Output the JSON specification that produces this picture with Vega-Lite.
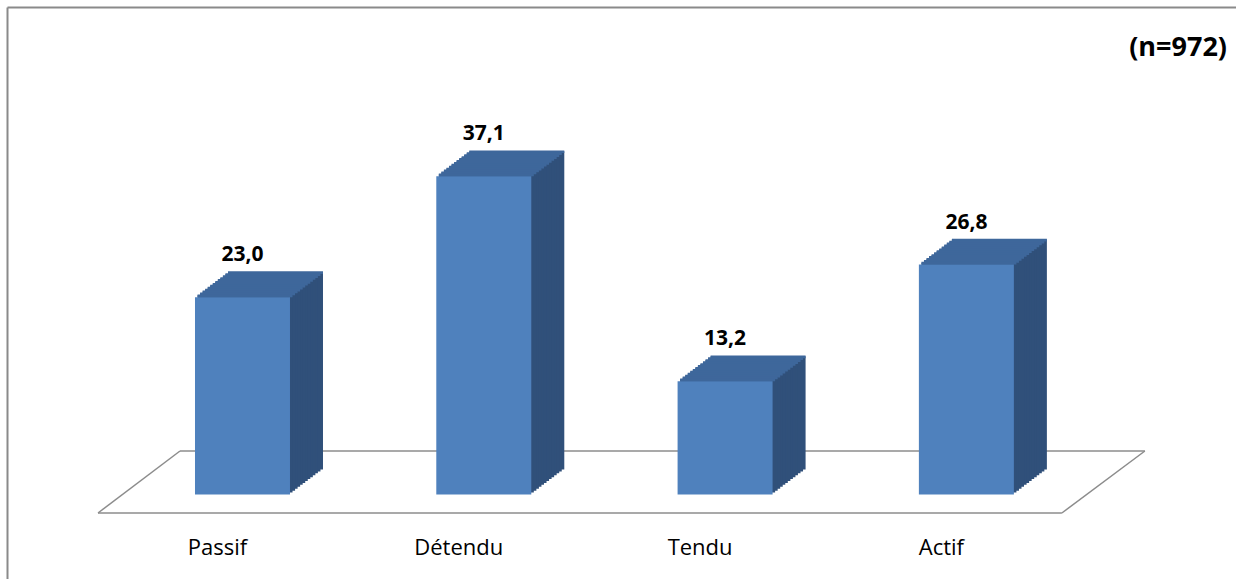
{
  "$schema": "https://vega.github.io/schema/vega-lite/v6.json",
  "autosize": {"type": "none"},
  "padding": {"left": 7, "top": 7, "right": 0, "bottom": 0},
  "width": 1229,
  "height": 572,
  "background": "white",
  "title": {"text": "(n=972)", "anchor": "end", "orient": "top", "frame": "group", "font": "Open Sans", "fontSize": 27, "fontWeight": "bold", "color": "#000000", "baseline": "alphabetic", "offset": 0, "dy": 76, "dx": -9},
  "data": {"values": [
    {"cat": "Passif", "v": 23.0},
    {"cat": "Détendu", "v": 37.1},
    {"cat": "Tendu", "v": 13.2},
    {"cat": "Actif", "v": 26.8}
  ]},
  "encoding": {
    "x": {"field": "cat", "type": "nominal", "sort": null,
      "scale": {"domain": ["Passif", "Détendu", "Tendu", "Actif"], "paddingInner": 0.6063, "paddingOuter": 0.8498, "align": 0.4584, "round": false},
      "axis": {"orient": "top", "labels": false, "ticks": false, "title": null, "grid": false, "domain": true, "domainColor": "#8a8a8a", "domainWidth": 2}},
    "y": {"field": "v", "type": "quantitative",
      "scale": {"domain": [-9.85, 56.82], "nice": false, "zero": false},
      "axis": {"labels": false, "ticks": false, "title": null, "grid": false, "domain": true, "domainColor": "#8a8a8a", "domainWidth": 2}}
  },
  "layer": [
    {"transform": [{"filter": "datum.cat === 'Passif'"}], "mark": {"type": "rule", "color": "#8c8c8c", "strokeWidth": 1.5, "xOffset": -62.5, "x2Offset": 178.5, "yOffset": -43.5, "y2Offset": -43.5},
     "encoding": {"x": {"datum": "Passif"}, "x2": {"datum": "Actif"}, "y": {"datum": 0}, "y2": {"datum": 0}}},
    {"transform": [{"filter": "datum.cat === 'Passif'"}], "mark": {"type": "rule", "color": "#8c8c8c", "strokeWidth": 1.5, "xOffset": -144.5, "x2Offset": 95.5, "yOffset": 18.5, "y2Offset": 18.5},
     "encoding": {"x": {"datum": "Passif"}, "x2": {"datum": "Actif"}, "y": {"datum": 0}, "y2": {"datum": 0}}},
    {"transform": [{"filter": "datum.cat === 'Passif'"}], "mark": {"type": "rule", "color": "#8c8c8c", "strokeWidth": 1.5, "xOffset": -144.5, "x2Offset": -62.5, "yOffset": 18.5, "y2Offset": -43.5},
     "encoding": {"x": {"datum": "Passif"}, "x2": {"datum": "Passif"}, "y": {"datum": 0}, "y2": {"datum": 0}}},
    {"transform": [{"filter": "datum.cat === 'Actif'"}], "mark": {"type": "rule", "color": "#8c8c8c", "strokeWidth": 1.5, "xOffset": 95.5, "x2Offset": 178.5, "yOffset": 18.5, "y2Offset": -43.5},
     "encoding": {"x": {"datum": "Actif"}, "x2": {"datum": "Actif"}, "y": {"datum": 0}, "y2": {"datum": 0}}},

    {"mark": {"type": "bar", "color": "#30507A", "xOffset": 33.0, "yOffset": -25.0, "y2Offset": -25.0}, "encoding": {"y2": {"datum": 0}}},
    {"mark": {"type": "bar", "color": "#3E679B", "xOffset": 33.0, "yOffset": -25.8, "y2Offset": -23.08}, "encoding": {"y2": {"field": "v"}}},
    {"mark": {"type": "bar", "color": "#30507A", "xOffset": 30.46, "yOffset": -23.08, "y2Offset": -23.08}, "encoding": {"y2": {"datum": 0}}},
    {"mark": {"type": "bar", "color": "#3E679B", "xOffset": 30.46, "yOffset": -23.88, "y2Offset": -21.15}, "encoding": {"y2": {"field": "v"}}},
    {"mark": {"type": "bar", "color": "#30507A", "xOffset": 27.92, "yOffset": -21.15, "y2Offset": -21.15}, "encoding": {"y2": {"datum": 0}}},
    {"mark": {"type": "bar", "color": "#3E679B", "xOffset": 27.92, "yOffset": -21.95, "y2Offset": -19.23}, "encoding": {"y2": {"field": "v"}}},
    {"mark": {"type": "bar", "color": "#30507A", "xOffset": 25.38, "yOffset": -19.23, "y2Offset": -19.23}, "encoding": {"y2": {"datum": 0}}},
    {"mark": {"type": "bar", "color": "#3E679B", "xOffset": 25.38, "yOffset": -20.03, "y2Offset": -17.31}, "encoding": {"y2": {"field": "v"}}},
    {"mark": {"type": "bar", "color": "#30507A", "xOffset": 22.85, "yOffset": -17.31, "y2Offset": -17.31}, "encoding": {"y2": {"datum": 0}}},
    {"mark": {"type": "bar", "color": "#3E679B", "xOffset": 22.85, "yOffset": -18.11, "y2Offset": -15.38}, "encoding": {"y2": {"field": "v"}}},
    {"mark": {"type": "bar", "color": "#30507A", "xOffset": 20.31, "yOffset": -15.38, "y2Offset": -15.38}, "encoding": {"y2": {"datum": 0}}},
    {"mark": {"type": "bar", "color": "#3E679B", "xOffset": 20.31, "yOffset": -16.18, "y2Offset": -13.46}, "encoding": {"y2": {"field": "v"}}},
    {"mark": {"type": "bar", "color": "#30507A", "xOffset": 17.77, "yOffset": -13.46, "y2Offset": -13.46}, "encoding": {"y2": {"datum": 0}}},
    {"mark": {"type": "bar", "color": "#3E679B", "xOffset": 17.77, "yOffset": -14.26, "y2Offset": -11.54}, "encoding": {"y2": {"field": "v"}}},
    {"mark": {"type": "bar", "color": "#30507A", "xOffset": 15.23, "yOffset": -11.54, "y2Offset": -11.54}, "encoding": {"y2": {"datum": 0}}},
    {"mark": {"type": "bar", "color": "#3E679B", "xOffset": 15.23, "yOffset": -12.34, "y2Offset": -9.62}, "encoding": {"y2": {"field": "v"}}},
    {"mark": {"type": "bar", "color": "#30507A", "xOffset": 12.69, "yOffset": -9.62, "y2Offset": -9.62}, "encoding": {"y2": {"datum": 0}}},
    {"mark": {"type": "bar", "color": "#3E679B", "xOffset": 12.69, "yOffset": -10.42, "y2Offset": -7.69}, "encoding": {"y2": {"field": "v"}}},
    {"mark": {"type": "bar", "color": "#30507A", "xOffset": 10.15, "yOffset": -7.69, "y2Offset": -7.69}, "encoding": {"y2": {"datum": 0}}},
    {"mark": {"type": "bar", "color": "#3E679B", "xOffset": 10.15, "yOffset": -8.49, "y2Offset": -5.77}, "encoding": {"y2": {"field": "v"}}},
    {"mark": {"type": "bar", "color": "#30507A", "xOffset": 7.62, "yOffset": -5.77, "y2Offset": -5.77}, "encoding": {"y2": {"datum": 0}}},
    {"mark": {"type": "bar", "color": "#3E679B", "xOffset": 7.62, "yOffset": -6.57, "y2Offset": -3.85}, "encoding": {"y2": {"field": "v"}}},
    {"mark": {"type": "bar", "color": "#30507A", "xOffset": 5.08, "yOffset": -3.85, "y2Offset": -3.85}, "encoding": {"y2": {"datum": 0}}},
    {"mark": {"type": "bar", "color": "#3E679B", "xOffset": 5.08, "yOffset": -4.65, "y2Offset": -1.92}, "encoding": {"y2": {"field": "v"}}},
    {"mark": {"type": "bar", "color": "#30507A", "xOffset": 2.54, "yOffset": -1.92, "y2Offset": -1.92}, "encoding": {"y2": {"datum": 0}}},
    {"mark": {"type": "bar", "color": "#3E679B", "xOffset": 2.54, "yOffset": -2.72, "y2Offset": 0}, "encoding": {"y2": {"field": "v"}}},

    {"mark": {"type": "bar", "color": "#4F81BD"}, "encoding": {"y2": {"datum": 0}}},

    {"mark": {"type": "text", "font": "Open Sans", "fontSize": 21, "fontWeight": "bold", "color": "#000000", "baseline": "alphabetic", "dy": -36},
     "encoding": {"text": {"field": "v", "type": "quantitative", "format": ".1f"}}},
    {"mark": {"type": "text", "font": "Open Sans", "fontSize": 22, "color": "#000000", "baseline": "alphabetic", "dx": -25, "dy": 60.5},
     "encoding": {"y": {"datum": 0}, "text": {"field": "cat"}}}
  ],
  "config": {
    "view": {"stroke": null},
    "locale": {"number": {"decimal": ",", "thousands": " ", "grouping": [3], "currency": ["", " €"]}}
  }
}
